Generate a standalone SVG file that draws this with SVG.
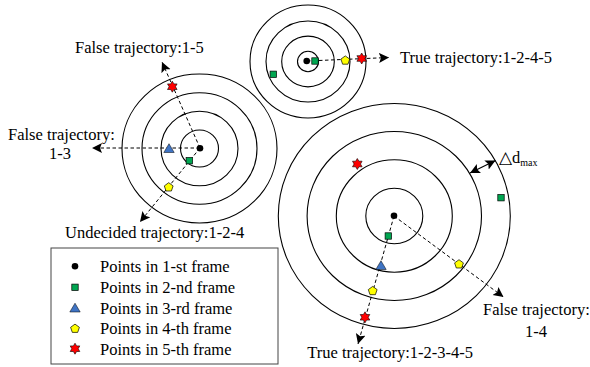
<svg xmlns="http://www.w3.org/2000/svg" xmlns:xlink="http://www.w3.org/1999/xlink" width="590" height="367" viewBox="0 0 590 367">
<style>
  .ring{fill:none;stroke:#000;stroke-width:1.1}
  .dash{fill:none;stroke:#000;stroke-width:1;stroke-dasharray:3.5,2.5}
  .solid{fill:none;stroke:#000;stroke-width:1.2}
  text{font-family:"Liberation Serif","Times New Roman",serif;font-size:16.5px;fill:#000}
  .sub{font-size:10px}
  .box{fill:#fff;stroke:#444;stroke-width:1}
</style>
<defs>
  <marker id="ah" markerUnits="userSpaceOnUse" markerWidth="12" markerHeight="12" refX="10" refY="5" orient="auto">
    <path d="M0,0 L10,5 L0,10 L2,5 z" fill="#000"/>
  </marker>
  <marker id="ahs" markerUnits="userSpaceOnUse" markerWidth="12" markerHeight="12" refX="10" refY="5" orient="auto-start-reverse">
    <path d="M0,0 L10,5 L0,10 L2,5 z" fill="#000"/>
  </marker>
  <circle id="p1" r="3.3" fill="#000"/>
  <rect id="p2" x="-3.2" y="-3.2" width="6.4" height="6.4" fill="#00A651" stroke="#000" stroke-width="0.7"/>
  <path id="p3" d="M0,-4.8 L5.2,4 L-5.2,4 z" fill="#3F74C4" stroke="#000" stroke-width="0.5"/>
  <path id="p4" d="M0,-4.6 L4.4,-1.4 L2.7,3.7 L-2.7,3.7 L-4.4,-1.4 z" fill="#FFFF00" stroke="#000" stroke-width="0.7"/>
  <path id="p5" d="M0,-5.5 L1.6,-2.8 L4.8,-2.8 L3.2,0 L4.8,2.8 L1.6,2.8 L0,5.5 L-1.6,2.8 L-4.8,2.8 L-3.2,0 L-4.8,-2.8 L-1.6,-2.8 z" fill="#FF0000" stroke="#000" stroke-width="0.6"/>
</defs>

<g id="cluster-left">
  <ellipse class="ring" cx="199.5" cy="148.5" rx="19" ry="18.5"/>
  <ellipse class="ring" cx="199.5" cy="148.5" rx="38.5" ry="37.3"/>
  <ellipse class="ring" cx="199.5" cy="148.5" rx="57.5" ry="55.8"/>
  <ellipse class="ring" cx="199.5" cy="148.5" rx="77.5" ry="74.5"/>
</g>
<g id="cluster-top">
  <ellipse class="ring" cx="308" cy="61.5" rx="10.5" ry="10.2"/>
  <ellipse class="ring" cx="308" cy="61.5" rx="26.3" ry="25.4"/>
  <ellipse class="ring" cx="308" cy="61.5" rx="42" ry="40.5"/>
  <ellipse class="ring" cx="308" cy="61.5" rx="58" ry="56.5"/>
</g>
<g id="cluster-right">
  <ellipse class="ring" cx="394.3" cy="216" rx="28.5" ry="27.8"/>
  <ellipse class="ring" cx="394.3" cy="216" rx="58" ry="56.2"/>
  <ellipse class="ring" cx="394.3" cy="216" rx="87.2" ry="84.5"/>
  <ellipse class="ring" cx="394.3" cy="216" rx="116" ry="112.5"/>
</g>

<g id="connectors">
  <line class="dash" x1="200" y1="148" x2="162" y2="62" marker-end="url(#ah)"/>
  <line class="dash" x1="200" y1="148" x2="92" y2="148" marker-end="url(#ah)"/>
  <line class="dash" x1="200" y1="148" x2="140" y2="222" marker-end="url(#ah)"/>
  <line class="dash" x1="307" y1="61" x2="389" y2="57.5" marker-end="url(#ah)"/>
  <line class="dash" x1="394" y1="216" x2="358" y2="344" marker-end="url(#ah)"/>
  <line class="dash" x1="394" y1="216" x2="503.5" y2="297" marker-end="url(#ah)"/>
  <line class="solid" x1="470" y1="173" x2="495.5" y2="160.5" marker-start="url(#ahs)" marker-end="url(#ahs)"/>
</g>

<g id="points-left">
  <use xlink:href="#p1" x="200" y="148.3"/>
  <use xlink:href="#p2" x="189.3" y="160.7"/>
  <use xlink:href="#p3" x="169" y="148.5"/>
  <use xlink:href="#p4" x="168.7" y="187.3"/>
  <use xlink:href="#p5" x="172.3" y="86.7"/>
</g>
<g id="points-top">
  <use xlink:href="#p1" x="306.7" y="61"/>
  <use xlink:href="#p2" x="315" y="61"/>
  <use xlink:href="#p2" x="273.3" y="74.3"/>
  <use xlink:href="#p4" x="345.3" y="60.5"/>
  <use xlink:href="#p5" x="361.7" y="58.5"/>
</g>
<g id="points-right">
  <use xlink:href="#p1" x="394" y="215.7"/>
  <use xlink:href="#p2" x="388.3" y="236"/>
  <use xlink:href="#p2" x="501" y="197.7"/>
  <use xlink:href="#p3" x="381" y="265.5"/>
  <use xlink:href="#p4" x="372.7" y="291"/>
  <use xlink:href="#p4" x="459" y="264.3"/>
  <use xlink:href="#p5" x="365" y="317.3"/>
  <use xlink:href="#p5" x="357.3" y="164"/>
</g>

<g id="labels">
  <text x="75" y="53">False trajectory:1-5</text>
  <text x="8" y="140">False trajectory:</text>
  <text x="49" y="159">1-3</text>
  <text x="65" y="238">Undecided trajectory:1-2-4</text>
  <text x="400" y="63">True trajectory:1-2-4-5</text>
  <text x="483" y="315">False trajectory:</text>
  <text x="525" y="337">1-4</text>
  <text x="473" y="358" text-anchor="end">True trajectory:1-2-3-4-5</text>
  <text x="499" y="163">△d<tspan class="sub" dy="3">max</tspan></text>
</g>

<g id="legend">
  <rect class="box" x="51" y="248" width="227" height="116"/>
  <use xlink:href="#p1" x="75" y="266.3"/>
  <use xlink:href="#p2" x="75" y="287.3"/>
  <use xlink:href="#p3" x="75" y="308"/>
  <use xlink:href="#p4" x="75" y="328.7"/>
  <use xlink:href="#p5" x="75" y="348.7"/>
  <text x="100" y="272">Points in 1-st frame</text>
  <text x="100" y="293">Points in 2-nd frame</text>
  <text x="100" y="313.5">Points in 3-rd frame</text>
  <text x="100" y="334">Points in 4-th frame</text>
  <text x="100" y="355">Points in 5-th frame</text>
</g>
</svg>
